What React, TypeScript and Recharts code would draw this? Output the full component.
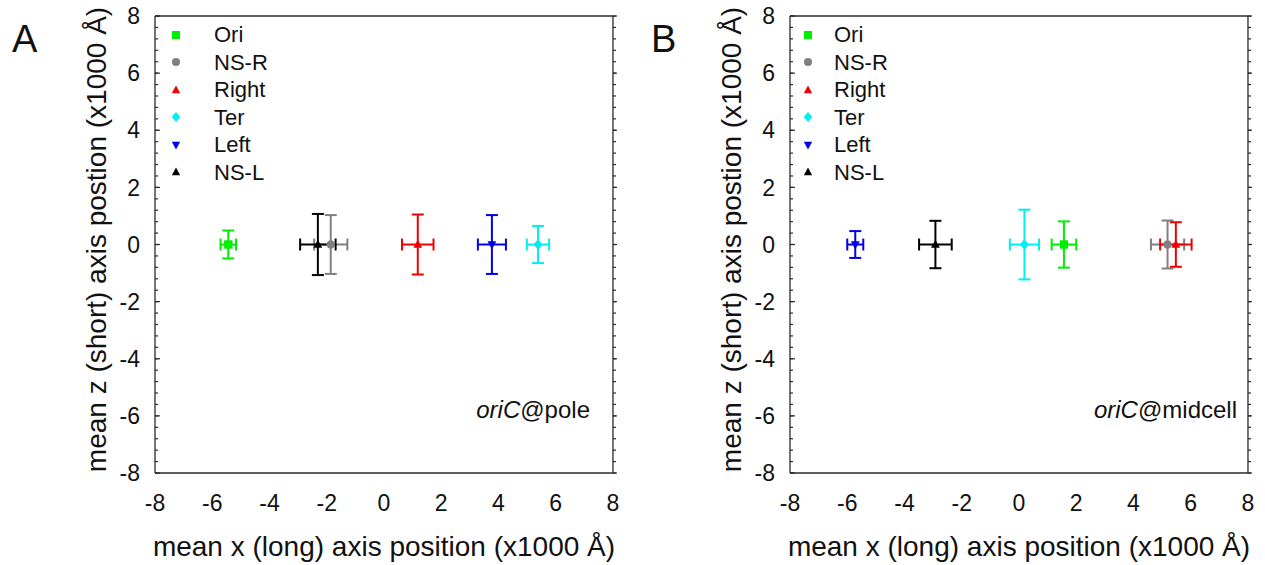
import React from 'react';
import { ScatterChart, Scatter, XAxis, YAxis, ErrorBar, Legend, Label } from 'recharts';

const FONT = '"Liberation Sans", Arial, sans-serif';

const SERIES_NAMES = ['Ori', 'NS-R', 'Right', 'Ter', 'Left', 'NS-L'];
const SERIES_COLORS = ['#00ee00', '#808080', '#ee0000', '#00f0f0', '#0000e6', '#000000'];
const SERIES_SHAPES = ['square', 'circle', 'triangle', 'diamond', 'triangleDown', 'triangle'];

// panel A: oriC@pole
const POLE_X = [-5.44, -1.86, 1.18, 5.38, 3.77, -2.31];
const POLE_Y = [0, 0, 0, 0, 0, 0];
const POLE_XERR = [0.27, 0.58, 0.55, 0.39, 0.49, 0.62];
const POLE_YERR = [0.49, 1.03, 1.05, 0.65, 1.03, 1.07];

// panel B: oriC@midcell
const MID_X = [1.57, 5.19, 5.48, 0.19, -5.72, -2.92];
const MID_Y = [0, 0, 0, 0, 0, 0];
const MID_XERR = [0.43, 0.58, 0.55, 0.51, 0.28, 0.57];
const MID_YERR = [0.81, 0.84, 0.78, 1.22, 0.47, 0.83];

const MAJOR_TICKS = [-8, -6, -4, -2, 0, 2, 4, 6, 8];
const MINOR_TICKS = [
  -8, -7.6, -7.2, -6.8, -6.4, -6, -5.6, -5.2, -4.8, -4.4, -4, -3.6, -3.2, -2.8, -2.4,
  -2, -1.6, -1.2, -0.8, -0.4, 0, 0.4, 0.8, 1.2, 1.6, 2, 2.4, 2.8, 3.2, 3.6, 4, 4.4,
  4.8, 5.2, 5.6, 6, 6.4, 6.8, 7.2, 7.6, 8,
];

const X_TITLE = 'mean x (long) axis position (x1000 Å)';
const Y_TITLE = 'mean z (short) axis postion (x1000 Å)';

const AXIS_COLOR = '#2a2a2a';
const TINY = 0.01;

const EmptyTick = () => <g />;

function Marker({ cx, cy, shape, color, r = 4.5 }: any) {
  if (cx == null || cy == null) return null;
  switch (shape) {
    case 'square':
      return <rect x={cx - r} y={cy - r} width={2 * r} height={2 * r} fill={color} />;
    case 'circle':
      return <circle cx={cx} cy={cy} r={r} fill={color} />;
    case 'triangle':
      return <polygon points={`${cx},${cy - r * 1.15} ${cx + r * 1.05},${cy + r * 0.8} ${cx - r * 1.05},${cy + r * 0.8}`} fill={color} />;
    case 'triangleDown':
      return <polygon points={`${cx},${cy + r * 1.15} ${cx + r * 1.05},${cy - r * 0.8} ${cx - r * 1.05},${cy - r * 0.8}`} fill={color} />;
    case 'diamond':
      return <polygon points={`${cx},${cy - r * 1.25} ${cx + r * 1.1},${cy} ${cx},${cy + r * 1.25} ${cx - r * 1.1},${cy}`} fill={color} />;
    default:
      return null;
  }
}

function LegendBox({ textGap }: { textGap: number }) {
  return (
    <div style={{ fontFamily: FONT, fontSize: 22, color: '#111' }}>
      {SERIES_NAMES.map((name, i) => (
        <div key={name} style={{ display: 'flex', alignItems: 'center', height: 27.5 }}>
          <svg width={14} height={14} style={{ display: 'block' }}>
            <Marker cx={7} cy={7} shape={SERIES_SHAPES[i]} color={SERIES_COLORS[i]} r={4} />
          </svg>
          <span style={{ marginLeft: textGap, lineHeight: '27.5px' }}>{name}</span>
        </div>
      ))}
    </div>
  );
}

const XTitle = (props: any) => {
  const vb = props.viewBox || { x: 155, y: 473, width: 458, height: 92 };
  return (
    <text x={vb.x + vb.width / 2} y={vb.y + 83} textAnchor="middle" fontSize={28} fontFamily={FONT} fill="#111">
      {X_TITLE}
    </text>
  );
};

const YTitle = (props: any) => {
  const vb = props.viewBox || { x: 0, y: 16, width: 155, height: 457 };
  const x = vb.x + 106;
  const y = vb.y + vb.height / 2 - 5;
  return (
    <text x={x} y={y} transform={`rotate(-90, ${x}, ${y})`} textAnchor="middle" fontSize={28} fontFamily={FONT} fill="#111">
      {Y_TITLE}
    </text>
  );
};

function Panel({ xs, ys, xerrs, yerrs, legendLeft, legendTop, textGap }: any) {
  const tickStyle = { fontSize: 23, fill: '#111', fontFamily: FONT };
  const common = {
    type: 'number' as const,
    domain: [-8, 8],
    allowDataOverflow: true,
    interval: 0 as const,
  };
  const tl = { stroke: AXIS_COLOR, strokeWidth: 1.2 };
  const al = { stroke: AXIS_COLOR, strokeWidth: 1.3 };
  return (
    <ScatterChart width={630} height={565} margin={{ top: 16, right: 17, bottom: 0, left: 0 }}>
      {/* inward ticks on bottom and left (mirrored, tick marks only) */}
      <XAxis xAxisId="minB" orientation="bottom" mirror height={TINY} ticks={MINOR_TICKS} tickSize={3} tick={EmptyTick} axisLine={false} tickLine={tl} {...common} />
      <XAxis xAxisId="majB" orientation="bottom" mirror height={TINY} ticks={MAJOR_TICKS} tickSize={5} tick={EmptyTick} axisLine={false} tickLine={tl} {...common} />
      <YAxis yAxisId="minL" orientation="left" mirror width={TINY} ticks={MINOR_TICKS} tickSize={3} tick={EmptyTick} axisLine={false} tickLine={tl} {...common} />
      <YAxis yAxisId="majL" orientation="left" mirror width={TINY} ticks={MAJOR_TICKS} tickSize={5} tick={EmptyTick} axisLine={false} tickLine={tl} {...common} />
      {/* outward ticks on top and right, with frame lines */}
      <XAxis xAxisId="minT" orientation="top" height={TINY} ticks={MINOR_TICKS} tickSize={3} tick={EmptyTick} axisLine={false} tickLine={tl} {...common} />
      <XAxis xAxisId="majT" orientation="top" height={TINY} ticks={MAJOR_TICKS} tickSize={4} tick={EmptyTick} axisLine={al} tickLine={tl} {...common} />
      <YAxis yAxisId="minR" orientation="right" width={TINY} ticks={MINOR_TICKS} tickSize={3} tick={EmptyTick} axisLine={false} tickLine={tl} {...common} />
      <YAxis yAxisId="majR" orientation="right" width={TINY} ticks={MAJOR_TICKS} tickSize={4} tick={EmptyTick} axisLine={al} tickLine={tl} {...common} />
      <XAxis
        xAxisId="main"
        dataKey="x"
        orientation="bottom"
        height={92}
        ticks={MAJOR_TICKS}
        tickSize={0}
        tickMargin={22}
        tick={tickStyle}
        axisLine={al}
        tickLine={false}
        {...common}
      >
        <Label content={XTitle} />
      </XAxis>
      <YAxis
        yAxisId="main"
        dataKey="y"
        orientation="left"
        width={155}
        ticks={MAJOR_TICKS}
        tickSize={0}
        tickMargin={15}
        tick={tickStyle}
        axisLine={al}
        tickLine={false}
        {...common}
      >
        <Label content={YTitle} />
      </YAxis>
      <Legend
        layout="vertical"
        align="center"
        verticalAlign="middle"
        wrapperStyle={{ left: legendLeft, top: legendTop, width: 'auto', height: 'auto' }}
        content={() => <LegendBox textGap={textGap} />}
      />
      {SERIES_NAMES.map((name, i) => (
        <Scatter
          key={name}
          name={name}
          xAxisId="main"
          yAxisId="main"
          data={[{ x: xs[i], y: ys[i], xerr: xerrs[i], yerr: yerrs[i] }]}
          fill={SERIES_COLORS[i]}
          isAnimationActive={false}
          shape={(p: any) => <Marker cx={p.cx} cy={p.cy} shape={SERIES_SHAPES[i]} color={SERIES_COLORS[i]} r={4.2} />}
        >
          <ErrorBar dataKey="xerr" direction="x" stroke={SERIES_COLORS[i]} strokeWidth={2} width={6} isAnimationActive={false} />
          <ErrorBar dataKey="yerr" direction="y" stroke={SERIES_COLORS[i]} strokeWidth={2} width={6} isAnimationActive={false} />
        </Scatter>
      ))}
    </ScatterChart>
  );
}

export default function App() {
  return (
    <div style={{ position: 'absolute', left: 0, top: 0, width: 1265, height: 565, background: '#fff', fontFamily: FONT }}>
      <div style={{ position: 'absolute', left: 0, top: 0 }}>
        <Panel xs={POLE_X} ys={POLE_Y} xerrs={POLE_XERR} yerrs={POLE_YERR} legendLeft={169} legendTop={21} textGap={31} />
      </div>
      <div style={{ position: 'absolute', left: 635, top: 0 }}>
        <Panel xs={MID_X} ys={MID_Y} xerrs={MID_XERR} yerrs={MID_YERR} legendLeft={166} legendTop={21} textGap={19} />
      </div>
      <div style={{ position: 'absolute', left: 12, top: 18, fontSize: 38, color: '#111' }}>A</div>
      <div style={{ position: 'absolute', left: 651, top: 18, fontSize: 38, color: '#111' }}>B</div>
      <div style={{ position: 'absolute', right: 1265 - 590, top: 396, fontSize: 24, color: '#111', whiteSpace: 'nowrap' }}>
        <i>oriC</i>@pole
      </div>
      <div style={{ position: 'absolute', right: 1265 - 1237, top: 396, fontSize: 24, color: '#111', whiteSpace: 'nowrap' }}>
        <i>oriC</i>@midcell
      </div>
    </div>
  );
}
